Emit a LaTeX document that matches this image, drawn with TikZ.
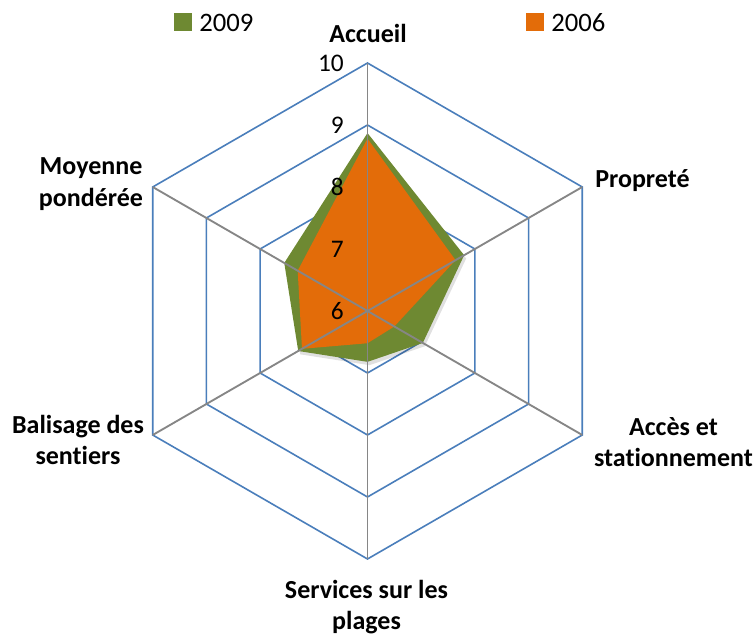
\documentclass[tikz,border=0pt]{standalone}
\usepackage{fontspec}
\setmainfont{Carlito}[Ligatures=NoCommon]
\definecolor{gridblue}{RGB}{74,126,187}
\definecolor{spokegray}{RGB}{134,134,134}
\definecolor{green09}{RGB}{110,137,50}
\definecolor{orange06}{RGB}{227,108,9}
\newcommand{\unitr}{62}

\begin{document}
\begin{tikzpicture}[x=0.75pt,y=0.75pt,
    gridline/.style ={draw=gridblue, line width=1.2pt, line join=miter},
    spoke/.style ={draw=spokegray, line width=1.4pt},
    axislabel/.style ={font=\fontsize{19.5}{23.5}\selectfont\bfseries, align=center, inner sep=0pt},
    ticklabel/.style ={font=\fontsize{19}{23}\selectfont, anchor=base east, inner sep=0pt},
    legendbox/.style ={minimum size=13.5pt, inner sep=0pt},
    legendtext/.style ={font=\fontsize{20}{24}\selectfont, anchor=west, inner sep=0pt}]
   \useasboundingbox (-367.5,-324) rectangle (385.5,311);

   % axis end points
   \coordinate (O)  at (0,0);
   \coordinate (A)  at (90:{4*\unitr});
   \coordinate (B)  at (30:{4*\unitr});
   \coordinate (C)  at (-30:{4*\unitr});
   \coordinate (D)  at (-90:{4*\unitr});
   \coordinate (E)  at (-150:{4*\unitr});
   \coordinate (F)  at (150:{4*\unitr});

   % grid
   \draw[gridline] (90:\unitr) -- (30:\unitr) -- (-30:\unitr) -- (-90:\unitr) -- (-150:\unitr) -- (150:\unitr) -- cycle;
   \draw[gridline] (90:{2*\unitr}) -- (30:{2*\unitr}) -- (-30:{2*\unitr}) -- (-90:{2*\unitr}) -- (-150:{2*\unitr}) -- (150:{2*\unitr}) -- cycle;
   \draw[gridline] (90:{3*\unitr}) -- (30:{3*\unitr}) -- (-30:{3*\unitr}) -- (-90:{3*\unitr}) -- (-150:{3*\unitr}) -- (150:{3*\unitr}) -- cycle;
   \draw[gridline] (A) -- (B) -- (C) -- (D) -- (E) -- (F) -- cycle;

   % 2009
   \coordinate (A9) at (90:{(8.87-6)*\unitr});
   \coordinate (B9) at (30:{(7.80-6)*\unitr});
   \coordinate (C9) at (-30:{(7.03-6)*\unitr});
   \coordinate (D9) at (-90:{(6.82-6)*\unitr});
   \coordinate (E9) at (-150:{(7.29-6)*\unitr});
   \coordinate (F9) at (150:{(7.55-6)*\unitr});
   % 2006
   \coordinate (A6) at (90:{(8.78-6)*\unitr});
   \coordinate (B6) at (30:{(7.64-6)*\unitr});
   \coordinate (C6) at (-30:{(6.50-6)*\unitr});
   \coordinate (D6) at (-90:{(6.52-6)*\unitr});
   \coordinate (E6) at (-150:{(7.22-6)*\unitr});
   \coordinate (F6) at (150:{(7.30-6)*\unitr});

   \fill[black, opacity=0.12, transform canvas={xshift=1.5pt, yshift=-2.5pt}] (A9) -- (B9) -- (C9) -- (D9) -- (E9) -- (F9) -- cycle;
   \fill[green09] (A9) -- (B9) -- (C9) -- (D9) -- (E9) -- (F9) -- cycle;
   \fill[orange06] (A6) -- (B6) -- (C6) -- (D6) -- (E6) -- (F6) -- cycle;

   % spokes
   \draw[spoke] (O) to (A);
   \draw[spoke] (O) to (B);
   \draw[spoke] (O) to (C);
   \draw[spoke] (O) to (D);
   \draw[spoke] (O) to (E);
   \draw[spoke] (O) to (F);

   % scale
   \node[ticklabel] (t6)  at (-23.5,{0*\unitr-9})  {6};
   \node[ticklabel] (t7)  at (-23.5,{1*\unitr-9})  {7};
   \node[ticklabel] (t8)  at (-23.5,{2*\unitr-9})  {8};
   \node[ticklabel] (t9)  at (-23.5,{3*\unitr-9})  {9};
   \node[ticklabel] (t10) at (-23.5,{4*\unitr-9})  {10};

   % axis labels
   \node[axislabel, anchor=base] (accueil) at (0.5,268) {Accueil};
   \node[axislabel, anchor=base west] (proprete) at (227.5,123) {Propreté};
   \node[axislabel] (acces) at (306,-131) {Accès et\\stationnement};
   \node[axislabel] (services) at (-1,-296) {Services sur les\\plages};
   \node[axislabel] (balisage) at (-289.5,-129) {Balisage des\\sentiers};
   \node[axislabel] (moyenne) at (-276.5,127) {Moyenne\\pondérée};

   % legend
   \node[legendbox, fill=green09] (key9) at (-184.5,288.5) {};
   \node[legendtext] (lab9) at (-168.5,288) {2009};
   \node[legendbox, fill=orange06] (key6) at (167.5,288.5) {};
   \node[legendtext] (lab6) at (183.5,288) {2006};
 \end{tikzpicture}
\end{document}
